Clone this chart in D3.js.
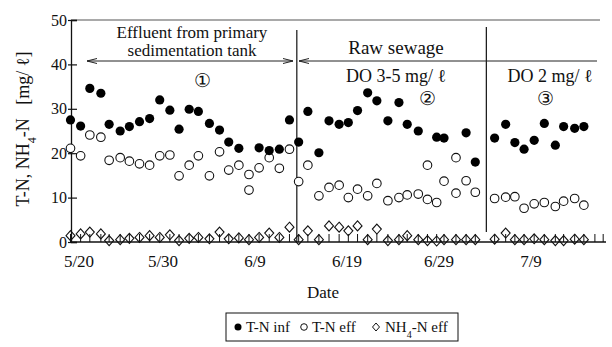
<!DOCTYPE html>
<html><head><meta charset="utf-8">
<script src="https://cdn.jsdelivr.net/npm/d3@7"></script>
<style>
body{margin:0;background:#fff}
</style>
</head><body><script>
// days since 5/20 for each sampling
const days = [0, 1.1, 2.1, 3.3, 4.2, 5.4, 6.4, 7.5, 8.6, 9.7, 10.8, 11.8, 12.9, 13.9, 15.1, 16.2, 17.2, 18.3, 19.4,
  20.5, 21.6, 22.7, 23.8, 24.8, 25.8, 27.0, 28.1, 29.2, 30.2, 31.2, 32.3, 33.3, 34.5, 35.7, 36.6, 37.8, 38.8,
  39.8, 40.6, 41.9, 43.0, 44.0, 46.1, 47.3, 48.3, 49.3, 50.4, 51.5, 52.7, 53.6, 54.8, 55.8];
const tnInf = [27.5, 26.1, 34.6, 33.5, 26.5, 25.0, 26.0, 27.1, 27.8, 32.0, 29.7, 25.4, 29.9, 29.4, 26.7, 25.2, 22.5, 21.1, null,
  21.2, 20.6, 20.9, 27.5, 22.5, 29.4, 20.1, 27.3, 26.5, 26.9, 29.6, 33.6, 31.8, 27.3, 31.4, 26.5, 25.0, null,
  23.6, 23.4, null, 24.6, 18.0, 23.4, 26.5, 22.4, 20.9, 22.9, 26.7, 21.8, 26.0, 25.6, 26.0];
const tnEff = [21.1, 19.4, 24.1, 23.6, 18.4, 19.0, 18.2, 17.6, 17.3, 19.4, 19.6, 14.9, 17.3, 19.4, 14.9, 20.3, 16.2, 17.3, 15.2,
  16.7, 19.0, 16.6, 20.9, 13.6, 17.3, 10.4, 12.3, 12.8, 10.0, 11.9, 10.4, 13.2, 9.3, 10.0, 10.6, 10.8, 9.6,
  8.9, 13.7, 11.0, 13.8, 11.2, 9.8, 10.1, 10.2, 7.6, 8.6, 8.9, 8.0, 9.2, 9.8, 8.3];
const nh4Eff = [1.2, 1.6, 2.0, 1.6, 0.1, 0.3, 0.6, 0.8, 1.2, 0.8, 1.4, 0.1, 0.6, 0.8, 0.5, 2.0, 0.5, 0.7, 0.3,
  0.8, 1.8, 0.8, 3.1, 0.3, 2.3, 0.3, 3.4, 3.1, 2.3, 3.4, 0.3, 2.7, 0.1, 0.3, 1.2, 0.3, 0.1,
  0.0, 0.3, 0.3, 0.3, 0.3, 0.4, 1.8, 0.3, 0.3, 0.5, 0.3, 0.1, 0.1, 0.4, 0.3];
// second open circle drawn on the same day
const extraEffDays = [19.4, 38.8, 41.9];
const extraEff = [11.7, 17.3, 19.0];
const emptyTickDays = [57.0, 57.9];
const tickDays = [0, 10, 20, 30, 40, 50];
const dateLabels = ['5/20', '5/30', '6/9', '6/19', '6/29', '7/9'];
const yTicks = [0, 10, 20, 30, 40, 50];
const phaseBreaks = [24.6, 45.2];

const serif = '"Liberation Serif", "Times New Roman", "DejaVu Serif", serif';
const width = 612, height = 347;
const svg = d3.select('body').append('svg')
  .attr('width', width).attr('height', height)
  .style('font-family', serif);

const x = d3.scaleLinear().domain([0, 58]).range([70.5, 70.5 + 9.2 * 58]);
const y = d3.scaleLinear().domain([0, 50]).range([242, 20]);
const x0 = 71;

// frame: top line
svg.append('line')
  .attr('x1', x0).attr('x2', 600).attr('y1', y(50)).attr('y2', y(50))
  .attr('stroke', '#555').attr('stroke-width', 1.2);

// y axis
const yAxis = svg.append('g')
  .attr('transform', 'translate(' + x0 + ',0)')
  .call(d3.axisLeft(y).tickValues(yTicks).tickSize(-6).tickPadding(4).tickFormat(d3.format('d')));
yAxis.attr('font-family', null);
yAxis.select('.domain').attr('stroke', '#111').attr('stroke-width', 1.3);
yAxis.selectAll('.tick line').attr('stroke', '#111').attr('stroke-width', 1.2).attr('x1', -3);
yAxis.selectAll('text').style('font-size', '16px');

// x axis
const xAxis = svg.append('g')
  .attr('transform', 'translate(0,' + y(0) + ')')
  .call(d3.axisBottom(x).tickValues(tickDays).tickSize(0).tickPadding(13)
    .tickFormat((d, i) => dateLabels[i]));
xAxis.attr('font-family', null);
xAxis.select('.domain').attr('d', 'M' + x0 + ',0H' + 606).attr('stroke', '#111').attr('stroke-width', 1.3);
xAxis.selectAll('text').style('font-size', '17px');
xAxis.selectAll('.tick').filter((d, i) => i === 0).select('text').attr('dx', 8);

// short upward ticks at sampling days
svg.append('g').selectAll('line')
  .data(days.concat(emptyTickDays))
  .enter().append('line')
  .attr('x1', d => x(d)).attr('x2', d => x(d))
  .attr('y1', y(0)).attr('y2', y(0) - 8)
  .attr('stroke', '#111').attr('stroke-width', 1);

// phase separators
svg.append('line')
  .attr('x1', x(phaseBreaks[0])).attr('x2', x(phaseBreaks[0]))
  .attr('y1', 30).attr('y2', y(0))
  .attr('stroke', '#111').attr('stroke-width', 1.2);
svg.append('line')
  .attr('x1', x(phaseBreaks[1])).attr('x2', x(phaseBreaks[1]))
  .attr('y1', 27).attr('y2', 232)
  .attr('stroke', '#111').attr('stroke-width', 1.2);

// arrows
const arrowY = 61;
const arrow = svg.append('g').attr('stroke', '#222').attr('stroke-width', 1).attr('fill', 'none');
arrow.append('line').attr('x1', 87).attr('x2', 293).attr('y1', arrowY).attr('y2', arrowY);
arrow.append('path').attr('d', 'M97,' + (arrowY - 2.5) + 'L87,' + arrowY + 'L97,' + (arrowY + 2.5));
arrow.append('path').attr('d', 'M283,' + (arrowY - 2.5) + 'L293,' + arrowY + 'L283,' + (arrowY + 2.5));
arrow.append('line').attr('x1', 299).attr('x2', 597).attr('y1', arrowY).attr('y2', arrowY);
arrow.append('path').attr('d', 'M309,' + (arrowY - 2.5) + 'L299,' + arrowY + 'L309,' + (arrowY + 2.5));

// annotation text
const notes = [
  ['Effluent from primary', 192, 38, 17],
  ['sedimentation tank', 192, 56, 17],
  ['Raw sewage', 396, 54, 19],
  ['DO 3-5 mg/ \u2113', 396, 82, 18],
  ['DO 2 mg/ \u2113', 550, 82, 18],
  ['\u2460', 202, 87, 19],
  ['\u2461', 427, 105, 19],
  ['\u2462', 545, 105, 19]
];
svg.append('g').selectAll('text')
  .data(notes)
  .enter().append('text')
  .attr('x', d => d[1]).attr('y', d => d[2])
  .attr('text-anchor', 'middle')
  .style('font-size', d => d[3] + 'px')
  .text(d => d[0]);

// NH4-N eff diamonds
const diamond = 'M0,-5L4.5,0L0,5L-4.5,0Z';
svg.append('g').selectAll('path')
  .data(days.map((d, i) => [d, nh4Eff[i]]))
  .enter().append('path')
  .attr('d', diamond)
  .attr('transform', d => 'translate(' + x(d[0]) + ',' + (y(d[1]) - 1) + ')')
  .attr('fill', 'none').attr('stroke', '#111').attr('stroke-width', 1.1);

// T-N eff open circles
const effPts = days.map((d, i) => [d, tnEff[i]])
  .concat(extraEffDays.map((d, i) => [d, extraEff[i]]));
svg.append('g').selectAll('circle')
  .data(effPts)
  .enter().append('circle')
  .attr('cx', d => x(d[0])).attr('cy', d => y(d[1]))
  .attr('r', 4.3)
  .attr('fill', '#fff').attr('stroke', '#111').attr('stroke-width', 1.1);

// T-N inf filled circles
svg.append('g').selectAll('circle')
  .data(days.map((d, i) => [d, tnInf[i]]).filter(d => d[1] !== null))
  .enter().append('circle')
  .attr('cx', d => x(d[0])).attr('cy', d => y(d[1]))
  .attr('r', 4.6)
  .attr('fill', '#000');

// y axis title
const yt = svg.append('text')
  .attr('transform', 'translate(29,129) rotate(-90)')
  .attr('text-anchor', 'middle')
  .style('font-size', '18px');
yt.append('tspan').text('T-N, NH');
yt.append('tspan').attr('baseline-shift', 'sub').style('font-size', '12px').text('4');
yt.append('tspan').text('-N\u2002 [mg/ \u2113]');

// x axis title
svg.append('text')
  .attr('x', 323).attr('y', 298)
  .attr('text-anchor', 'middle')
  .style('font-size', '17px')
  .text('Date');

// legend
const lg = svg.append('g');
lg.append('rect')
  .attr('x', 226).attr('y', 313).attr('width', 232).attr('height', 28)
  .attr('fill', 'none').attr('stroke', '#111').attr('stroke-width', 1);
lg.append('circle').attr('cx', 238).attr('cy', 327).attr('r', 3.5).attr('fill', '#000');
lg.append('text').attr('x', 246).attr('y', 332).style('font-size', '15px').text('T-N inf');
lg.append('circle').attr('cx', 304).attr('cy', 327).attr('r', 3.3)
  .attr('fill', 'none').attr('stroke', '#111').attr('stroke-width', 1);
lg.append('text').attr('x', 312).attr('y', 332).style('font-size', '15px').text('T-N eff');
lg.append('path').attr('d', 'M0,-4L3.5,0L0,4L-3.5,0Z')
  .attr('transform', 'translate(376,327)')
  .attr('fill', 'none').attr('stroke', '#111').attr('stroke-width', 1);
const lt = lg.append('text').attr('x', 385).attr('y', 332).style('font-size', '15px');
lt.append('tspan').text('NH');
lt.append('tspan').attr('baseline-shift', 'sub').style('font-size', '10px').text('4');
lt.append('tspan').text('-N eff');

svg.selectAll('text').style('font-family', serif).attr('fill', '#111');
</script></body></html>
